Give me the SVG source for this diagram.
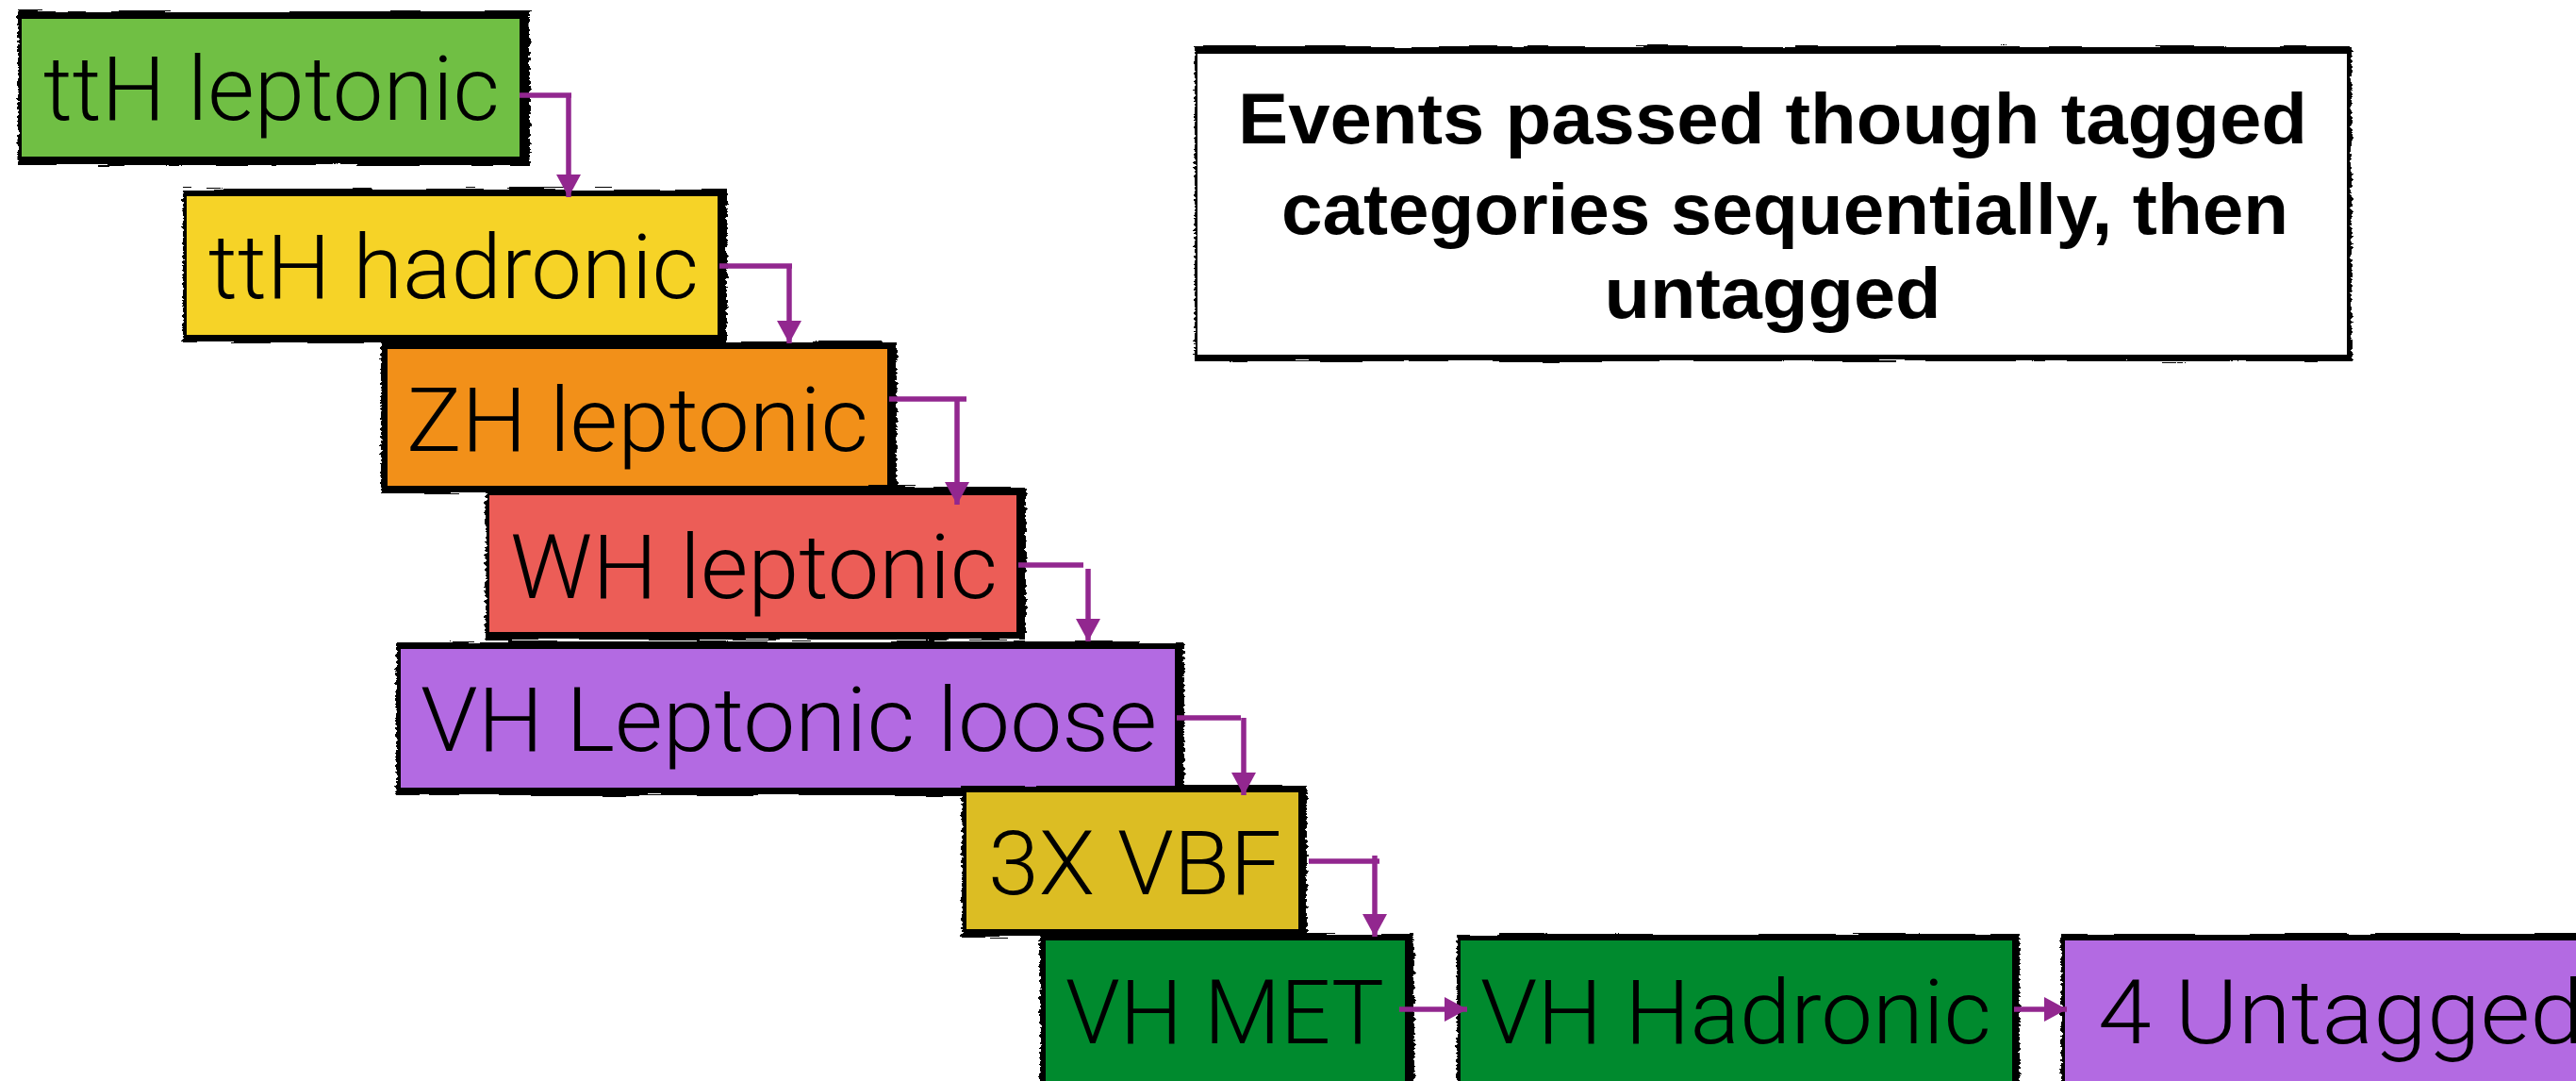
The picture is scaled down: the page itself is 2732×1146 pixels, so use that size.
<svg xmlns="http://www.w3.org/2000/svg" width="2732" height="1146" viewBox="0 0 2732 1146">
<style>
.brd{fill:#000;filter:url(#rough)}
.lbl{font-family:Roboto,"Liberation Sans",Arial,sans-serif;font-weight:300;font-size:95px;fill:#000}
.hdr{font-family:"Liberation Sans",Arial,sans-serif;font-size:76px;font-weight:bold;fill:#000;text-anchor:middle}
.con{fill:none;stroke:#92278F;stroke-width:5.5}
.g1{fill:#70BF44}.y1{fill:#F6D327}.o1{fill:#F29019}.r1{fill:#EC5D57}.p1{fill:#B36AE2}.y2{fill:#DCBD23}.g2{fill:#008A2E}
</style>
<defs>
<filter id="rough" x="-5%" y="-10%" width="110%" height="120%">
<feTurbulence type="fractalNoise" baseFrequency="0.015 0.35" numOctaves="2" seed="3" result="n"/>
<feDisplacementMap in="SourceGraphic" in2="n" scale="7" xChannelSelector="R" yChannelSelector="G"/>
</filter>
<marker id="ah" markerUnits="userSpaceOnUse" markerWidth="26" markerHeight="26" viewBox="0 0 26 26" refX="24" refY="13" orient="auto">
<path d="M0,0 L24,13 L0,26 Z" fill="#92278F"/>
</marker>
</defs>
<rect width="2732" height="1146" fill="#fff"/>
<g id="note">
<rect class="brd" x="1267" y="49" width="1227" height="334"/>
<rect x="1270" y="57" width="1219" height="319" fill="#fff"/>
<text class="hdr" x="1880" y="152" textLength="1134" lengthAdjust="spacingAndGlyphs">Events passed though tagged</text>
<text class="hdr" x="1893" y="248" textLength="1068" lengthAdjust="spacingAndGlyphs">categories sequentially, then</text>
<text class="hdr" x="1880" y="337" textLength="357" lengthAdjust="spacingAndGlyphs">untagged</text>
</g>
<g id="n1">
<rect class="brd" x="19" y="12" width="543" height="163"/>
<rect class="g1" x="23" y="20" width="528" height="146"/>
<text class="lbl" x="46" y="127" textLength="484" lengthAdjust="spacingAndGlyphs">ttH leptonic</text>
</g>
<g id="n2">
<rect class="brd" x="194" y="200" width="577" height="163"/>
<rect class="y1" x="198" y="208" width="563" height="147"/>
<text class="lbl" x="221" y="316" textLength="520" lengthAdjust="spacingAndGlyphs">ttH hadronic</text>
</g>
<g id="n3">
<rect class="brd" x="404" y="362" width="547" height="161"/>
<rect class="o1" x="411" y="370" width="530" height="145"/>
<text class="lbl" x="431" y="478" textLength="490" lengthAdjust="spacingAndGlyphs">ZH leptonic</text>
</g>
<g id="n4">
<rect class="brd" x="515" y="516" width="573" height="162"/>
<rect class="r1" x="519" y="525" width="559" height="145"/>
<text class="lbl" x="541" y="634" textLength="517" lengthAdjust="spacingAndGlyphs">WH leptonic</text>
</g>
<g id="n5">
<rect class="brd" x="420" y="680" width="836" height="163"/>
<rect class="p1" x="425" y="688" width="821" height="147"/>
<text class="lbl" x="446" y="796" textLength="781" lengthAdjust="spacingAndGlyphs">VH Leptonic loose</text>
</g>
<g id="n6">
<rect class="brd" x="1020" y="833" width="366" height="160"/>
<rect class="y2" x="1025" y="840" width="352" height="145"/>
<text class="lbl" x="1048" y="948" textLength="311" lengthAdjust="spacingAndGlyphs">3X VBF</text>
</g>
<g id="n7">
<rect class="brd" x="1103" y="990" width="397" height="170"/>
<rect class="g2" x="1109" y="997" width="381" height="153"/>
<text class="lbl" x="1130" y="1106" textLength="338" lengthAdjust="spacingAndGlyphs">VH MET</text>
</g>
<g id="n8">
<rect class="brd" x="1545" y="990" width="597" height="170"/>
<rect class="g2" x="1549" y="997" width="585" height="153"/>
<text class="lbl" x="1570" y="1106" textLength="542" lengthAdjust="spacingAndGlyphs">VH Hadronic</text>
</g>
<g id="n9">
<rect class="brd" x="2186" y="990" width="560" height="170"/>
<rect class="p1" x="2190" y="997" width="560" height="153"/>
<text class="lbl" x="2225" y="1106" textLength="515" lengthAdjust="spacingAndGlyphs">4 Untagged</text>
</g>
<g id="connectors">
<path class="con" d="M551,101 H606"/>
<path class="con" d="M603,99 V209" marker-end="url(#ah)"/>
<path class="con" d="M763,282 H840"/>
<path class="con" d="M837,280 V364" marker-end="url(#ah)"/>
<path class="con" d="M943,423 H1025"/>
<path class="con" d="M1015,423 V535" marker-end="url(#ah)"/>
<path class="con" d="M1080,599 H1149"/>
<path class="con" d="M1154,603 V680" marker-end="url(#ah)"/>
<path class="con" d="M1248,761 H1316"/>
<path class="con" d="M1319,761 V843" marker-end="url(#ah)"/>
<path class="con" d="M1388,913 H1463"/>
<path class="con" d="M1458,907 V993" marker-end="url(#ah)"/>
<path class="con" d="M1484,1070 H1556" marker-end="url(#ah)"/>
<path class="con" d="M2136,1070 H2192" marker-end="url(#ah)"/>
</g>
</svg>
